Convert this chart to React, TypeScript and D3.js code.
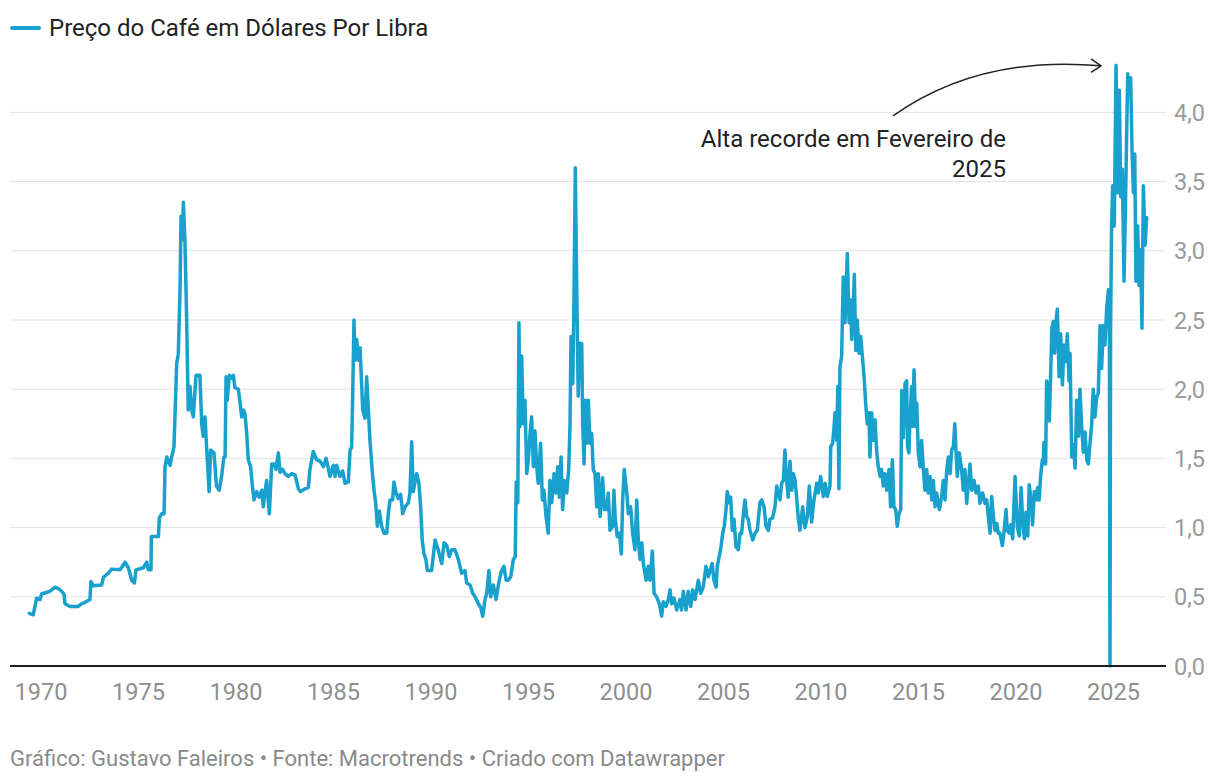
import React from "react";
import * as d3 from "d3";

// ---- Data: coffee price (USD per pound), decimal year / value ----
const seg1969: [number, number][] = [
  [1969.4,0.38],[1969.6,0.37],[1969.78,0.49],[1969.95,0.48],[1970.03,0.52],[1970.46,0.54],[1970.72,0.57],[1970.89,0.56],[1971.06,0.54],[1971.18,0.52],[1971.23,0.45],[1971.49,0.43],[1971.91,0.43],[1972.09,0.45],[1972.26,0.46],[1972.51,0.48],[1972.56,0.61],[1972.68,0.58],[1973.11,0.585],[1973.2,0.64],[1973.45,0.67],[1973.62,0.7],[1974.05,0.695],[1974.31,0.75],[1974.48,0.71],[1974.65,0.62],[1974.79,0.6],[1974.87,0.695],[1975.25,0.71],[1975.42,0.75],[1975.5,0.695],[1975.64,0.695],[1975.66,0.935],[1976.02,0.935],[1976.07,1.07],[1976.19,1.1],[1976.31,1.1],[1976.36,1.44],[1976.45,1.51],[1976.62,1.45],[1976.7,1.51],[1976.82,1.585],[1976.87,1.8],[1976.96,2.19],[1977.04,2.25],[1977.13,2.72],[1977.18,3.25],[1977.25,3.08],[1977.3,3.35],[1977.38,3.08],[1977.47,2.5],[1977.55,1.85],[1977.64,2.02],[1977.73,1.85],[1977.81,1.8],[1977.95,2.1],[1978.15,2.1],[1978.24,1.75],[1978.32,1.66],[1978.41,1.8],[1978.5,1.56],[1978.62,1.26],[1978.7,1.56],[1978.87,1.54],[1979.0,1.3],[1979.14,1.27],[1979.26,1.37],[1979.38,1.51],[1979.44,1.51],
];
const seg1979: [number, number][] = [
  [1979.49,2.09],[1979.55,1.92],[1979.66,2.1],[1979.78,2.08],[1979.86,2.1],[1979.95,2.01],[1980.12,2.0],[1980.21,1.9],[1980.29,1.8],[1980.38,1.85],[1980.46,1.82],[1980.55,1.68],[1980.63,1.49],[1980.75,1.44],[1980.84,1.3],[1980.92,1.2],[1981.06,1.26],[1981.19,1.22],[1981.32,1.27],[1981.4,1.15],[1981.49,1.26],[1981.57,1.34],[1981.71,1.1],[1981.83,1.46],[1981.95,1.46],[1982.05,1.42],[1982.17,1.54],[1982.26,1.4],[1982.39,1.42],[1982.51,1.39],[1982.68,1.37],[1982.86,1.39],[1983.03,1.38],[1983.2,1.28],[1983.31,1.26],[1983.54,1.28],[1983.71,1.29],[1983.79,1.42],[1983.96,1.55],[1984.14,1.49],[1984.31,1.48],[1984.48,1.44],[1984.62,1.5],[1984.73,1.43],[1984.82,1.37],[1984.99,1.45],[1985.08,1.37],[1985.16,1.45],[1985.33,1.37],[1985.47,1.41],[1985.59,1.32],[1985.76,1.33],[1985.85,1.56],[1985.93,1.58],[1985.98,1.92],[1986.05,2.5],[1986.1,2.21],[1986.19,2.36],[1986.27,2.21],[1986.36,2.3],[1986.5,1.85],[1986.62,1.79],[1986.7,2.09],[1986.79,1.85],[1986.87,1.63],[1986.99,1.4],[1987.08,1.27],[1987.16,1.18],[1987.25,1.01],[1987.35,1.12],[1987.47,1.01],[1987.59,0.96],[1987.73,0.96],[1987.81,1.1],[1987.9,1.2],[1988.03,1.2],[1988.1,1.33],[1988.21,1.25],[1988.32,1.21],[1988.44,1.24],[1988.55,1.1],[1988.67,1.15],[1988.84,1.18],[1988.92,1.25],[1989.01,1.62],[1989.09,1.26],[1989.18,1.33],[1989.27,1.39],[1989.38,1.32],[1989.47,1.15],[1989.55,0.91],[1989.64,0.81],[1989.74,0.77],[1989.81,0.69],
];
const seg1990: [number, number][] = [
  [1990.03,0.69],[1990.21,0.91],[1990.37,0.84],[1990.55,0.74],[1990.67,0.89],[1990.81,0.87],[1990.94,0.79],[1991.06,0.84],[1991.23,0.84],[1991.4,0.77],[1991.57,0.67],[1991.74,0.69],[1991.83,0.6],[1992.0,0.585],[1992.14,0.525],[1992.26,0.5],[1992.43,0.45],[1992.56,0.42],[1992.65,0.36],[1992.77,0.48],[1992.86,0.525],[1992.97,0.69],[1993.06,0.5],[1993.2,0.585],[1993.33,0.48],[1993.5,0.62],[1993.62,0.69],[1993.74,0.72],[1993.85,0.62],[1993.96,0.62],[1994.09,0.645],[1994.22,0.77],[1994.32,0.79],[1994.37,1.33],[1994.45,1.18],[1994.51,2.48],[1994.56,1.73],[1994.65,2.24],[1994.73,1.75],[1994.82,1.92],[1994.91,1.39],[1994.99,1.49],[1995.08,1.68],[1995.16,1.8],[1995.25,1.44],[1995.33,1.7],[1995.42,1.44],[1995.5,1.32],[1995.62,1.61],[1995.71,1.2],[1995.79,1.27],[1995.9,1.08],[1996.01,0.96],[1996.1,1.34],[1996.19,1.18],[1996.31,1.39],[1996.41,1.25],[1996.5,1.44],[1996.58,1.22],[1996.67,1.51],[1996.75,1.13],[1996.84,1.34],[1996.96,1.25],[1997.06,1.42],[1997.13,1.75],[1997.18,2.38],[1997.27,2.04],[1997.33,2.62],[1997.4,3.6],[1997.47,2.77],[1997.55,1.95],[1997.61,2.33],[1997.73,2.33],[1997.78,1.75],[1997.85,1.46],[1997.91,1.92],[1997.98,1.61],[1998.07,1.92],[1998.15,1.61],[1998.24,1.68],[1998.32,1.42],[1998.41,1.39],[1998.5,1.15],[1998.58,1.39],[1998.67,1.08],[1998.8,1.36],[1998.89,1.13],[1999.01,1.13],[1999.09,1.25],[1999.18,0.98],[1999.32,1.01],[1999.38,1.27],[1999.45,1.06],[1999.55,0.935],[1999.66,0.96],[1999.76,0.81],[1999.83,1.2],[1999.91,1.42],[2000.04,1.25],
];
const seg2000: [number, number][] = [
  [2000.12,1.1],[2000.24,1.15],[2000.34,0.96],[2000.46,0.84],[2000.55,1.2],[2000.63,0.91],[2000.72,0.77],[2000.81,0.89],[2000.89,0.74],[2001.03,0.62],[2001.14,0.72],[2001.23,0.62],[2001.35,0.83],[2001.44,0.525],[2001.57,0.5],[2001.71,0.45],[2001.83,0.36],[2001.91,0.465],[2002.05,0.43],[2002.17,0.48],[2002.26,0.55],[2002.34,0.45],[2002.46,0.49],[2002.6,0.405],[2002.77,0.48],[2002.85,0.405],[2002.94,0.54],[2003.08,0.405],[2003.19,0.54],[2003.32,0.43],[2003.42,0.55],[2003.54,0.48],[2003.71,0.62],[2003.83,0.525],[2003.96,0.57],[2004.1,0.72],[2004.22,0.645],[2004.31,0.69],[2004.42,0.74],[2004.51,0.62],[2004.62,0.57],[2004.68,0.72],[2004.78,0.79],[2004.87,0.86],[2004.96,0.96],[2005.04,1.01],[2005.13,1.13],[2005.19,1.26],[2005.3,1.18],[2005.37,1.22],[2005.45,0.98],[2005.54,1.06],[2005.64,0.86],[2005.76,0.84],[2005.85,0.96],[2005.93,0.96],[2006.02,1.1],[2006.1,1.2],[2006.19,1.08],[2006.27,1.06],[2006.36,0.98],[2006.5,0.91],[2006.62,0.96],[2006.73,0.98],[2006.87,1.18],[2006.96,1.2],[2007.08,1.15],[2007.18,1.01],[2007.3,0.98],[2007.38,1.06],[2007.52,1.07],[2007.64,1.15],[2007.73,1.3],[2007.81,1.25],[2007.9,1.2],[2007.98,1.32],[2008.07,1.34],[2008.15,1.56],[2008.24,1.34],[2008.32,1.22],[2008.41,1.48],[2008.5,1.27],[2008.58,1.39],[2008.67,1.34],[2008.75,1.22],[2008.84,1.06],[2008.92,0.98],
];
const seg2009: [number, number][] = [
  [2009.06,1.15],[2009.18,1.0],[2009.3,1.08],[2009.4,1.3],[2009.52,1.04],[2009.64,1.2],[2009.78,1.32],[2009.86,1.25],[2009.98,1.37],[2010.12,1.225],[2010.21,1.32],[2010.32,1.225],[2010.46,1.3],[2010.5,1.585],[2010.6,1.61],[2010.67,1.73],[2010.72,1.83],[2010.81,1.63],[2010.86,2.02],[2010.92,1.28],[2010.97,2.16],[2011.06,2.24],[2011.14,2.81],[2011.23,2.48],[2011.35,2.98],[2011.44,2.48],[2011.52,2.645],[2011.57,2.36],[2011.66,2.6],[2011.71,2.83],[2011.78,2.28],[2011.86,2.5],[2011.95,2.26],[2012.04,2.38],[2012.12,2.24],[2012.22,2.07],[2012.29,1.9],[2012.37,1.75],[2012.46,1.83],[2012.51,1.51],[2012.6,1.83],[2012.68,1.63],[2012.77,1.78],[2012.86,1.54],[2012.94,1.44],[2013.03,1.37],[2013.11,1.42],[2013.19,1.3],[2013.28,1.39],[2013.37,1.27],[2013.49,1.42],[2013.57,1.15],[2013.66,1.49],[2013.74,1.15],[2013.83,1.13],[2013.91,1.01],[2014.0,1.1],[2014.09,1.13],[2014.14,1.99],[2014.22,1.65],[2014.31,2.04],[2014.39,2.06],[2014.44,1.585],[2014.51,1.54],[2014.56,1.78],[2014.65,2.02],[2014.7,1.73],[2014.77,2.14],[2014.86,1.73],[2014.91,1.9],[2014.99,1.54],[2015.08,1.44],[2015.16,1.63],[2015.25,1.42],[2015.33,1.27],[2015.42,1.42],[2015.5,1.25],[2015.59,1.37],[2015.68,1.2],[2015.76,1.34],[2015.85,1.15],[2015.93,1.25],[2016.07,1.13],[2016.19,1.225],[2016.27,1.34],[2016.36,1.2],[2016.45,1.42],[2016.53,1.51],[2016.62,1.39],[2016.7,1.56],[2016.79,1.585],[2016.86,1.75],[2016.92,1.56],[2016.99,1.37],[2017.09,1.54],[2017.21,1.42],[2017.3,1.27],[2017.38,1.42],[2017.47,1.175],[2017.56,1.32],[2017.64,1.46],[2017.73,1.27],[2017.85,1.34],[2017.95,1.25],[2018.07,1.3],[2018.15,1.175],[2018.29,1.25],[2018.41,1.175],[2018.5,1.2],[2018.58,1.08],[2018.67,0.96],[2018.75,1.225],[2018.84,1.08],[2018.92,0.98],[2019.01,1.03],[2019.09,0.96],[2019.18,0.96],[2019.3,0.87],[2019.38,0.96],[2019.49,1.13],[2019.55,0.98],[2019.66,0.96],
];
const seg2019: [number, number][] = [
  [2019.73,1.02],[2019.83,0.92],[2019.95,1.37],[2020.07,1.0],[2020.17,0.94],[2020.26,1.29],[2020.34,1.055],[2020.43,0.92],[2020.51,1.11],[2020.6,0.94],[2020.68,1.31],[2020.77,1.2],[2020.85,1.02],[2020.94,1.26],[2021.03,1.2],[2021.11,1.29],[2021.19,1.2],[2021.26,1.37],[2021.35,1.49],[2021.4,1.46],[2021.43,1.615],[2021.52,1.46],[2021.57,2.06],[2021.66,2.0],[2021.71,1.77],[2021.78,2.12],[2021.84,2.44],[2021.91,2.49],[2021.98,2.26],[2022.03,2.46],[2022.12,2.58],[2022.21,2.09],[2022.29,2.4],[2022.38,2.03],[2022.46,2.32],[2022.55,2.2],[2022.63,2.4],[2022.72,2.06],[2022.77,2.26],[2022.86,1.51],[2022.94,1.6],[2023.03,1.43],[2023.11,1.92],[2023.2,1.66],[2023.28,2.0],[2023.37,1.72],[2023.45,1.545],[2023.54,1.69],[2023.63,1.49],[2023.71,1.46],[2023.79,1.6],[2023.88,1.745],[2023.96,2.0],[2024.05,1.8],[2024.14,1.945],[2024.22,1.97],[2024.31,2.46],[2024.39,2.15],[2024.48,2.46],[2024.56,2.32],[2024.65,2.58],[2024.74,2.72],[2024.79,2.43],[2024.82,0],[2024.85,2.43],[2024.9,3.18],[2024.96,3.47],[2025.04,3.18],[2025.13,4.34],[2025.21,3.42],[2025.3,4.16],[2025.37,3.39],[2025.45,3.59],[2025.54,2.78],[2025.61,3.3],[2025.68,3.88],[2025.73,4.28],[2025.81,4.14],[2025.88,4.25],[2025.95,3.73],[2026.02,3.42],[2026.09,3.7],[2026.15,2.78],[2026.24,3.18],[2026.31,2.75],[2026.39,3.01],[2026.46,2.44],[2026.53,3.47],[2026.62,3.04],[2026.7,3.24],
];

const yTicks = [0, 0.5, 1, 1.5, 2, 2.5, 3, 3.5, 4];
const xTicks = [1970, 1975, 1980, 1985, 1990, 1995, 2000, 2005, 2010, 2015, 2020, 2025];
const seriesLabel = "Preço do Café em Dólares Por Libra";
const annotationLines = ["Alta recorde em Fevereiro de", "2025"];
const recordPoint: [number, number] = [2025.13, 4.34];
const footer = "Gráfico: Gustavo Faleiros • Fonte: Macrotrends • Criado com Datawrapper";

const data = [...seg1969, ...seg1979, ...seg1990, ...seg2000, ...seg2009, ...seg2019];

const W = 1220;
const H = 782;
const FONT = "Roboto, 'Noto Sans', sans-serif";
const BLUE = "#18a1cd";

export default function App() {
  const x = d3.scaleLinear().domain([1970, 2025]).range([41, 1113.5]);
  const y = d3.scaleLinear().domain([0, 4]).range([666, 112.4]);
  const line = d3
    .line<[number, number]>()
    .x((d) => x(d[0]))
    .y((d) => y(d[1]));

  const gridLeft = 10;
  const gridRight = 1166;
  const fmt = (v: number) => v.toFixed(1).replace(".", ",");

  const tipX = x(recordPoint[0]) - 15;
  const tipY = y(recordPoint[1]) + 0.5;
  const startX = tipX - 208;
  const startY = tipY + 50;
  const ctrlX = tipX - 122;
  const ctrlY = tipY - 11;

  return (
    <svg
      width={W}
      height={H}
      viewBox={`0 0 ${W} ${H}`}
      style={{ position: "absolute", left: 0, top: 0, background: "#fff" }}
      fontFamily={FONT}
    >
      <rect x={0} y={0} width={W} height={H} fill="#fff" />
      {/* legend */}
      <line x1={12} x2={39} y1={28} y2={28} stroke={BLUE} strokeWidth={4} strokeLinecap="round" />
      <text x={49} y={36} fontSize={24} fill="#222">{seriesLabel}</text>

      {/* grid */}
      {yTicks.filter((t) => t > 0).map((t) => (
        <line key={t} x1={gridLeft} x2={gridRight} y1={y(t)} y2={y(t)} stroke="#e3e3e3" strokeWidth={1} />
      ))}
      {yTicks.map((t) => (
        <text key={"yl" + t} x={1174} y={y(t) + 8.5} fontSize={23.5} fill="#9a9a9a">{fmt(t)}</text>
      ))}

      {/* line */}
      <path d={line(data) || ""} fill="none" stroke={BLUE} strokeWidth={3.5} strokeLinejoin="round" strokeLinecap="round" />

      {/* baseline */}
      <line x1={gridLeft} x2={gridRight} y1={y(0)} y2={y(0)} stroke="#1d1d1d" strokeWidth={2} />

      {xTicks.map((t) => (
        <text key={"xl" + t} x={x(t)} y={700} fontSize={23.5} fill="#8f8f8f" textAnchor="middle">{t}</text>
      ))}

      {/* annotation */}
      <path
        d={`M${startX},${startY} Q${ctrlX},${ctrlY} ${tipX},${tipY}`}
        fill="none"
        stroke="#222"
        strokeWidth={1.5}
      />
      <path
        d={`M${tipX - 10},${tipY - 7} L${tipX},${tipY} L${tipX - 10},${tipY + 6.5}`}
        fill="none"
        stroke="#222"
        strokeWidth={1.5}
        strokeLinejoin="round"
      />
      {annotationLines.map((l, i) => (
        <text key={i} x={1006} y={146.5 + i * 30} fontSize={24} fill="#222" textAnchor="end">{l}</text>
      ))}

      {/* footer */}
      <text x={10} y={766} fontSize={22} fill="#8a8a8a">{footer}</text>
    </svg>
  );
}
